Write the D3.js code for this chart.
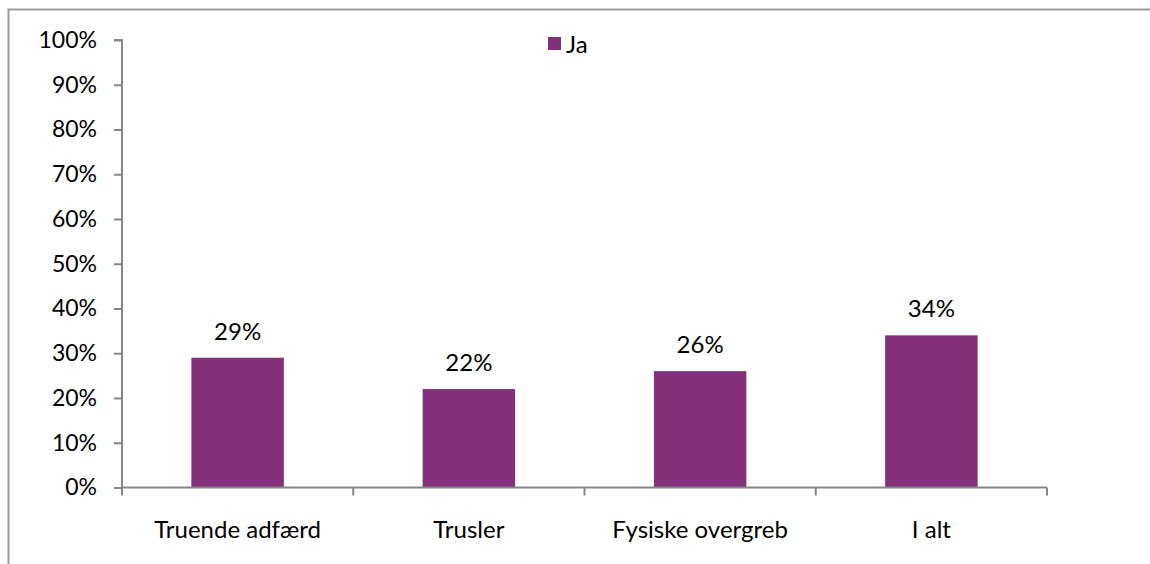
<!DOCTYPE html>
<html>
<head>
<meta charset="utf-8">
<script src="https://cdn.jsdelivr.net/npm/d3@7"></script>
<style>
  html, body { margin: 0; padding: 0; background: #fff; }
  svg text { font-family: Lato, "Open Sans", sans-serif; fill: #000; }
</style>
</head>
<body>
<svg id="chart" width="1150" height="564"></svg>
<script>
const categories = ["Truende adfærd", "Trusler", "Fysiske overgreb", "I alt"];
const values = [0.29, 0.22, 0.26, 0.34];
const yTicks = [0, 0.1, 0.2, 0.3, 0.4, 0.5, 0.6, 0.7, 0.8, 0.9, 1.0];
const seriesName = "Ja";

const svg = d3.select("#chart");
const fontSize = 24;
const barColor = "#84307A";
const axisColor = "#868686";

// outer chart border (cut off at right/bottom)
svg.append("rect")
  .attr("x", 8.5).attr("y", 9.5)
  .attr("width", 1200).attr("height", 600)
  .attr("fill", "none").attr("stroke", "#9a9a9a").attr("stroke-width", 2);

const x = d3.scaleBand().domain(categories).range([122, 1047]).paddingInner(0.6).paddingOuter(0.3);
const y = d3.scaleLinear().domain([0, 1]).range([487.5, 40]);

// bars
svg.append("g").selectAll("rect").data(values).join("rect")
  .attr("x", (d, i) => x(categories[i]))
  .attr("y", d => y(d))
  .attr("width", x.bandwidth())
  .attr("height", d => y(0) - y(d))
  .attr("fill", barColor);

// y axis
const yAxis = d3.axisLeft(y).tickValues(yTicks).tickFormat(d3.format(".0%")).tickSize(8).tickPadding(17);
const gy = svg.append("g").attr("transform", "translate(122,0)").call(yAxis);
gy.select(".domain").attr("stroke", axisColor).attr("stroke-width", 2).attr("d", `M-8,${y(1)}H0V${y(0)}`);
gy.selectAll(".tick line").attr("stroke", axisColor).attr("stroke-width", 2);
gy.selectAll(".tick text").attr("font-size", fontSize - 1).attr("font-family", "Lato, sans-serif").attr("fill", "#000");

// x axis
const xb = d3.scaleOrdinal().domain(categories).range(categories.map(c => x(c) + x.bandwidth() / 2));
const gx = svg.append("g").attr("transform", `translate(0,${y(0)})`);
gx.append("line").attr("x1", 122).attr("x2", 1047).attr("y1", 0).attr("y2", 0)
  .attr("stroke", axisColor).attr("stroke-width", 2);
const boundaries = d3.range(categories.length + 1).map(i => 122 + i * (925 / categories.length));
gx.selectAll("line.tk").data(boundaries).join("line").attr("class", "tk")
  .attr("x1", d => d).attr("x2", d => d).attr("y1", 0).attr("y2", 8)
  .attr("stroke", axisColor).attr("stroke-width", 2);
gx.selectAll("text").data(categories).join("text")
  .attr("x", d => xb(d)).attr("y", 50)
  .attr("text-anchor", "middle").attr("font-size", fontSize)
  .text(d => d);

// data labels
svg.append("g").selectAll("text").data(values).join("text")
  .attr("x", (d, i) => xb(categories[i]))
  .attr("y", d => y(d) - 18)
  .attr("text-anchor", "middle").attr("font-size", fontSize)
  .text(d => d3.format(".0%")(d));

// legend
const lg = svg.append("g");
lg.append("rect").attr("x", 548).attr("y", 37).attr("width", 13).attr("height", 13).attr("fill", barColor);
lg.append("text").attr("x", 566).attr("y", 53).attr("font-size", fontSize).text(seriesName);
</script>
</body>
</html>
